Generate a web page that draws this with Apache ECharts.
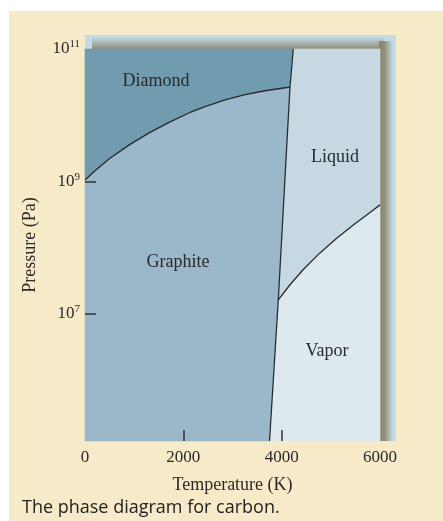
<!DOCTYPE html>
<html><head><meta charset="utf-8">
<script src="https://cdn.jsdelivr.net/npm/echarts@6/dist/echarts.min.js"></script>
<style>html,body{margin:0;padding:0;background:#fff}#c{width:443px;height:521px}</style>
</head><body><div id="c"></div>
<script>
// ---- data (Temperature in K, Pressure in Pa) ----
// Diamond / graphite boundary, left to right
const diamondT = [0, 203, 508, 915, 1322, 1729, 2136, 2440, 2847, 3254, 3661, 4068, 4169];
const diamondP = [1.05e9, 1.45e9, 2.24e9, 3.63e9, 5.50e9, 7.94e9, 1.10e10, 1.35e10, 1.70e10, 2.04e10, 2.34e10, 2.60e10, 2.66e10];
// Solid / (liquid, vapor) boundary, bottom to top
const meltT = [3753, 3931, 4169, 4236];
const meltP = [1.2e5, 1.62e7, 2.66e10, 1e11];
// Liquid / vapor boundary, left to right
const vaporT = [3931, 4169, 4440, 4779, 5119, 5457, 5796, 6000];
const vaporP = [1.62e7, 2.75e7, 4.68e7, 8.32e7, 1.38e8, 2.19e8, 3.39e8, 4.42e8];
// Region names and where their labels sit
const regionNames = ['Graphite', 'Diamond', 'Liquid', 'Vapor'];
const labelT = [1891, 1444, 5084, 4922];
const labelP = [6.0e7, 3.2e10, 2.3e9, 2.7e6];
// Axis ranges and ticks
const tRange = [0, 6000];
const pRange = [1.2e5, 1e11];
const tempTicks = [2000, 4000];
const tempLabels = [0, 2000, 4000, 6000];
const pressureTicks = [1e7, 1e9];
const pressureLabels = [1e7, 1e9, 1e11];

// ---- build polygons from the arrays ----
const zip = (a, b) => a.map((v, i) => [v, b[i]]);
const dCurve = zip(diamondT, diamondP);
const melt = zip(meltT, meltP);
const vCurve = zip(vaporT, vaporP);
const [tMin, tMax] = tRange, [pMin, pMax] = pRange;
const polys = [
  [[tMin, pMin], melt[0], melt[1], melt[2]].concat(dCurve.slice().reverse()),
  dCurve.concat([melt[3], [tMin, pMax]]),
  [melt[3], [tMax, pMax]].concat(vCurve.slice().reverse(), [melt[2]]),
  vCurve.concat([[tMax, pMin], melt[0]])
];
const fills = ['#9ab8c9', '#719caf', '#c6d9e3', '#dde9ef'];
const serif = 'Liberation Serif';
const ink = '#2a2a2a';

const chart = echarts.init(document.getElementById('c'), null, {renderer: 'canvas'});
chart.setOption({
  animation: false,
  backgroundColor: '#ffffff',
  title: {
    text: 'The phase diagram for carbon.', left: 22, top: 499, padding: 0,
    textStyle: {fontFamily: 'Open Sans', fontSize: 18, fontWeight: 'normal', color: '#222'}
  },
  graphic: [
    {type: 'rect', z: -10, silent: true, shape: {x: 9, y: 11, width: 434, height: 510}, style: {fill: '#f7eac8'}},
    {type: 'rect', z: -9, silent: true, shape: {x: 85, y: 35, width: 311, height: 406}, style: {fill: '#c2dbe6'}},
    {type: 'rect', z: -8, silent: true, shape: {x: 92, y: 37, width: 292, height: 13},
      style: {fill: new echarts.graphic.LinearGradient(0, 0, 0, 1, [
        {offset: 0, color: 'rgba(140,134,112,0)'}, {offset: 1, color: 'rgba(140,134,112,1)'}])}},
    {type: 'rect', z: -8, silent: true, shape: {x: 379, y: 41, width: 14, height: 400},
      style: {fill: new echarts.graphic.LinearGradient(0, 0, 1, 0, [
        {offset: 0, color: 'rgba(140,134,112,1)'}, {offset: 0.4, color: 'rgba(140,134,112,0.9)'}, {offset: 1, color: 'rgba(140,134,112,0)'}])}}
  ],
  grid: {left: 85, top: 49, width: 295, height: 392, containLabel: false},
  xAxis: {
    type: 'value', min: tMin, max: tMax, interval: 2000, z: 10,
    name: 'Temperature (K)', nameLocation: 'middle', nameGap: 35,
    nameTextStyle: {fontFamily: serif, fontSize: 18, color: ink},
    axisLine: {show: false}, splitLine: {show: false},
    axisTick: {show: true, inside: true, length: 11, customValues: tempTicks, lineStyle: {color: '#333', width: 1.5}},
    axisLabel: {customValues: tempLabels, margin: 8, fontFamily: serif, fontSize: 17, color: ink,
      formatter: v => String(v)}
  },
  yAxis: {
    type: 'log', logBase: 10, min: pMin, max: pMax, z: 10,
    name: 'Pressure (Pa)', nameLocation: 'middle', nameGap: 46,
    nameTextStyle: {fontFamily: serif, fontSize: 18, color: ink},
    axisLine: {show: false}, splitLine: {show: false},
    axisTick: {show: true, inside: true, length: 11, customValues: pressureTicks, lineStyle: {color: '#333', width: 1.5}},
    axisLabel: {
      customValues: pressureLabels, margin: 5,
      formatter: v => '{b|10}{s|' + Math.round(Math.log10(v)) + '}',
      rich: {
        b: {fontFamily: serif, fontSize: 17, color: ink},
        s: {fontFamily: serif, fontSize: 11, color: ink, padding: [0, 0, 9, 0]}
      }
    }
  },
  series: [
    {
      type: 'custom', silent: true, z: 2,
      data: regionNames.map((n, i) => [labelT[i], labelP[i], i]),
      encode: {x: 0, y: 1},
      renderItem: (params, api) => {
        const i = api.value(2);
        const pts = polys[i].map(p => api.coord(p));
        const c = api.coord([labelT[i], labelP[i]]);
        return {
          type: 'group',
          children: [
            {type: 'polygon', shape: {points: pts}, style: {fill: fills[i], stroke: fills[i], lineWidth: 0.6}},
            {type: 'text', z2: 10, style: {text: regionNames[i], x: c[0], y: c[1], align: 'center', verticalAlign: 'middle',
              fontFamily: serif, fontSize: 18, fill: ink}}
          ]
        };
      }
    },
    {type: 'line', silent: true, z: 3, symbol: 'none', data: dCurve, lineStyle: {color: '#2a2a2a', width: 1.3}},
    {type: 'line', silent: true, z: 3, symbol: 'none', data: melt, lineStyle: {color: '#2a2a2a', width: 1.3}},
    {type: 'line', silent: true, z: 3, symbol: 'none', data: vCurve, lineStyle: {color: '#2a2a2a', width: 1.3}}
  ]
});
</script></body></html>
